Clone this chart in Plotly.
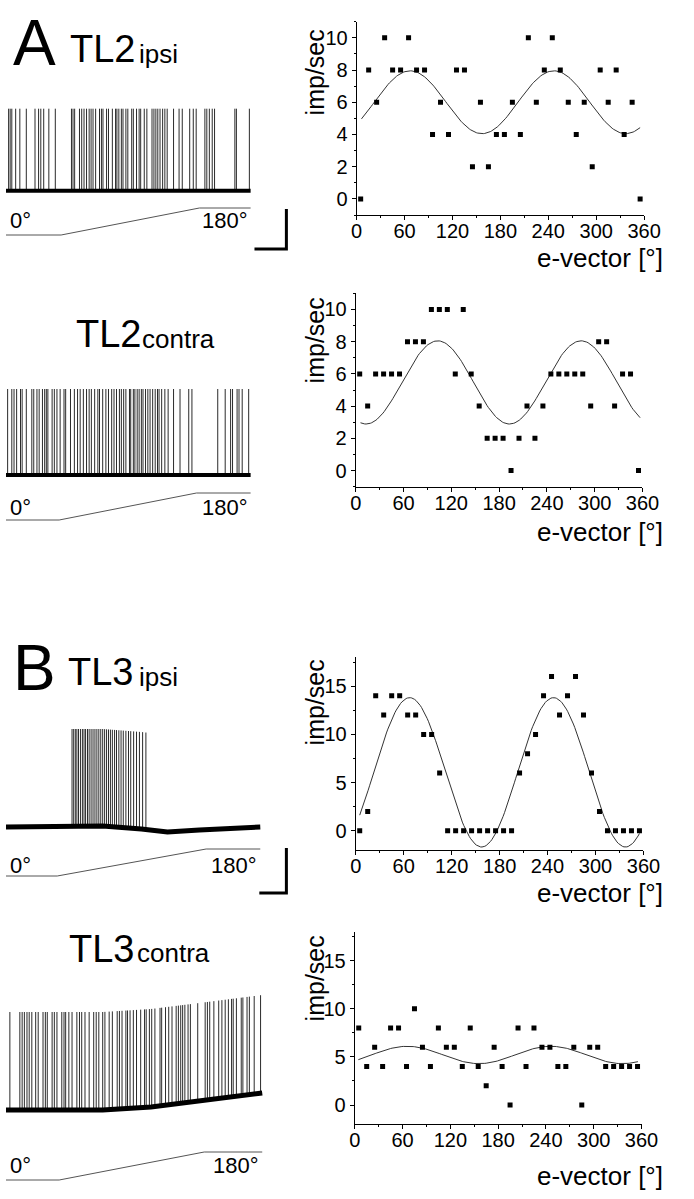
import numpy as np
import plotly.graph_objects as go

W, H = 694, 1199
FONT = "Arial, Liberation Sans, Helvetica, sans-serif"

# ---------------- tuning curves (right column) ----------------
evec = list(range(5, 360, 10))  # e-vector orientation of each sample [deg]
rate_tl2_ipsi = [0, 8, 6, 10, 8, 8, 10, 8, 8, 4, 6, 4, 8, 8, 2, 6, 2, 4, 4, 6,
                 4, 10, 6, 8, 10, 8, 6, 4, 6, 2, 8, 6, 8, 4, 6, 0]
rate_tl2_contra = [6, 4, 6, 6, 6, 6, 8, 8, 8, 10, 10, 10, 6, 10, 6, 4, 2, 2, 2, 0,
                   2, 4, 2, 4, 6, 6, 6, 6, 6, 4, 8, 8, 4, 6, 6, 0]
rate_tl3_ipsi = [0, 2, 14, 12, 14, 14, 12, 12, 10, 10, 6, 0, 0, 0, 0, 0, 0, 0, 0, 0,
                 6, 8, 10, 14, 16, 12, 14, 16, 12, 6, 2, 0, 0, 0, 0, 0]
rate_tl3_contra = [8, 4, 6, 4, 8, 8, 4, 10, 6, 4, 8, 6, 6, 4, 8, 4, 2, 6, 4, 0,
                   8, 4, 8, 6, 6, 4, 4, 6, 0, 6, 6, 4, 4, 4, 4, 4]

# sinusoidal (cos^2) fit parameters
fit_mean = [6.0, 5.47, 6.06, 5.2]
fit_amp = [1.95, 2.58, 7.75, 0.9]
fit_peak = [67, 103, 67.5, 66]
fit_start = [6, 6, 5, 4.5]
fit_end = [355, 357, 355, 355.5]

x_ticks = [0, 60, 120, 180, 240, 300, 360]
y_range_small = [-1, 11]
y_range_large = [-2, 18]

# ---------------- spike recordings (left column) ----------------
spikes_tl2_ipsi = [2.7, 4.3, 6, 10, 14.3, 21, 30, 33.7, 36, 39, 44.3, 51, 67.7, 69.3, 71,
                   76, 78.3, 80.7, 83.3, 86, 88, 90, 92.7, 96.7, 98.7, 100.3, 104, 106,
                   110, 113.3, 114.7, 116.7, 119.3, 121, 124, 126, 130, 131.7, 135,
                   137.7, 139.3, 143, 145.7, 151, 153, 155, 157, 159.3, 162, 164.3,
                   166.7, 173.3, 179, 182.3, 190, 193.7, 196.7, 205.7, 207.7, 210.3,
                   213.3, 215.7, 236.7, 238.3, 251.7]
spikes_tl2_contra = [1.7, 6, 8.3, 11, 15, 16.7, 21, 26.7, 28.7, 32, 34.3, 37.7, 40, 41.7,
                     43.3, 47.7, 50, 52.7, 56, 60, 61.7, 66.7, 70.7, 74, 76.7, 80, 83.3,
                     86, 88.3, 91.7, 95, 96.7, 100, 103.3, 106, 109.3, 111.7, 114.3,
                     117.3, 119.3, 121.7, 124, 127.7, 129, 131.7, 133.3, 135.7, 137.7,
                     140, 141.7, 144.3, 146.7, 149, 151.7, 154.3, 156.7, 158.3, 161,
                     164.3, 167.7, 173.3, 180, 189, 192.3, 219, 226.7, 232.3, 234.3,
                     239, 241, 244.3, 251]
spikes_tl3_ipsi = [68.3, 70, 71.7, 73.3, 75, 77, 79, 80.7, 82.3, 84.3, 86, 88, 90, 92,
                   94, 96, 98, 100, 102, 104, 106, 108, 110, 112.3, 114.3, 116.7, 119,
                   121.3, 124, 126.7, 129, 132, 135, 138, 141.3, 144.7]
spikes_tl3_contra = [4, 14.3, 16.7, 19, 21.7, 24, 26.7, 30.7, 33.3, 38.3, 40.7, 42.7,
                     47.7, 50, 52.7, 57.7, 60, 61.7, 65, 68.3, 73.3, 76, 78.3, 81.7, 86,
                     90.7, 93.3, 96, 100, 102.3, 106.7, 110, 115, 117.3, 120, 124, 125.7,
                     128.3, 131.7, 135, 139.3, 143.3, 145, 148.3, 150.7, 154, 159.3,
                     161, 165, 168.3, 171.7, 176, 178.3, 180.7, 182.7, 185, 188.3,
                     190.7, 198.3, 206, 208.3, 210.7, 215, 220, 223.3, 226.7, 230,
                     233.3, 235, 238.3, 243.3, 245, 249.3, 251.7, 256.7, 263.3]

# baseline (resting level) samples and spike amplitudes of each sweep
base_t = [[0, 253], [0, 253], [0, 60, 100, 140, 167, 200, 263], [0, 100, 150, 200, 265]]
base_v = [[190.7, 190.7], [475, 475], [827, 826, 826, 829, 832, 830, 827],
          [1110, 1110, 1107, 1101, 1093]]
spike_amp = [82, 86, 97, 98]
base_width = [4, 4, 5, 5]
spike_sets = [spikes_tl2_ipsi, spikes_tl2_contra, spikes_tl3_ipsi, spikes_tl3_contra]

# stimulus (polarizer rotation 0 -> 180 deg) ramp of each sweep
ramp_t = [[0, 57, 200, 253], [0, 55, 197, 253], [0, 53, 207, 263], [0, 55, 205, 265]]
ramp_v = [[235, 235, 208, 208], [520, 520, 493, 493], [876, 876, 849, 849],
          [1180, 1180, 1152, 1152]]
ramp_label_y = [220, 507, 865, 1165]

fig = go.Figure()

# pixel-space overlay axis for the recordings
for i in range(4):
    bt, bv = base_t[i], base_v[i]
    xs, ys = [], []
    for t in spike_sets[i]:
        b = float(np.interp(t, bt, bv))
        xs += [t, t, None]
        ys += [b, b - spike_amp[i], None]
    fig.add_trace(go.Scatter(x=xs, y=ys, mode="lines", xaxis="x5", yaxis="y5",
                             line=dict(color="#2a2a2a", width=1), showlegend=False,
                             hoverinfo="skip"))
    fig.add_trace(go.Scatter(x=bt, y=bv, mode="lines", xaxis="x5", yaxis="y5",
                             line=dict(color="black", width=base_width[i]),
                             showlegend=False, hoverinfo="skip"))
    fig.add_trace(go.Scatter(x=ramp_t[i], y=ramp_v[i], mode="lines", xaxis="x5",
                             yaxis="y5", line=dict(color="#555", width=1),
                             showlegend=False, hoverinfo="skip"))
    fig.add_annotation(x=2, y=ramp_label_y[i], xref="x5", yref="y5", text="0°",
                       showarrow=False, xanchor="left", yanchor="middle",
                       font=dict(family=FONT, size=22, color="black"))
    fig.add_annotation(x=ramp_t[i][-1] - 1, y=ramp_label_y[i], xref="x5", yref="y5",
                       text="180°", showarrow=False, xanchor="right", yanchor="middle",
                       font=dict(family=FONT, size=22, color="black"))

# scale bars
bar_x = [[257, 290, 290], [262, 290, 290]]
bar_y = [[249, 249, 209], [893, 893, 848]]
for bx, by in zip(bar_x, bar_y):
    fig.add_trace(go.Scatter(x=bx, y=by, mode="lines", xaxis="x5", yaxis="y5",
                             line=dict(color="black", width=3), showlegend=False,
                             hoverinfo="skip"))

# tuning plots
rates = [rate_tl2_ipsi, rate_tl2_contra, rate_tl3_ipsi, rate_tl3_contra]
xdom = [[362.7, 660], [361.7, 658.3], [361.7, 659.3], [360.7, 657.3]]
ydom = [[21.7, 215], [293.3, 486.7], [657.3, 850], [931.7, 1124.3]]
yr = [y_range_small, y_range_small, y_range_large, y_range_large]
ydt = [2, 2, 5, 5]
title_y = [72, 340, 702, 978]
xtitle_y = [258, 532, 893, 1176]

for i in range(4):
    n = i + 1
    xa = "x" if n == 1 else f"x{n}"
    ya = "y" if n == 1 else f"y{n}"
    xc = np.linspace(fit_start[i], fit_end[i], 200)
    yc = fit_mean[i] + fit_amp[i] * np.cos(np.radians(2 * (xc - fit_peak[i])))
    fig.add_trace(go.Scatter(x=xc, y=yc, mode="lines", xaxis=xa, yaxis=ya,
                             line=dict(color="#333", width=1), showlegend=False))
    fig.add_trace(go.Scatter(x=evec, y=rates[i], mode="markers", xaxis=xa, yaxis=ya,
                             marker=dict(symbol="square", size=5, color="black"),
                             showlegend=False))
    axx = dict(domain=[xdom[i][0] / W, xdom[i][1] / W], range=[0, 360],
               tickvals=x_ticks, showline=True, linecolor="black", linewidth=1,
               ticks="outside", ticklen=4, tickcolor="black", showgrid=False,
               zeroline=False, anchor=ya, fixedrange=True, ticklabelstandoff=-6,
               minor=dict(dtick=30, ticks="outside", ticklen=2, tickcolor="black"),
               tickfont=dict(family=FONT, size=20, color="black"))
    axy = dict(domain=[1 - ydom[i][1] / H, 1 - ydom[i][0] / H], range=yr[i],
               dtick=ydt[i], tick0=0, showline=True, linecolor="black", linewidth=1,
               ticks="outside", ticklen=4, tickcolor="black", showgrid=False,
               zeroline=False, anchor=xa, fixedrange=True,
               minor=dict(dtick=ydt[i] / 2, ticks="outside", ticklen=2,
                          tickcolor="black"),
               tickfont=dict(family=FONT, size=20, color="black"))
    fig.layout["xaxis" if n == 1 else f"xaxis{n}"] = axx
    fig.layout["yaxis" if n == 1 else f"yaxis{n}"] = axy
    fig.add_annotation(x=320, y=title_y[i], xref="x5", yref="y5", text="imp/sec",
                       textangle=-90, showarrow=False, xanchor="center",
                       yanchor="middle", font=dict(family=FONT, size=25, color="black"))
    fig.add_annotation(x=682, y=xtitle_y[i], xref="x5", yref="y5", text="e-vector [°]",
                       showarrow=False, xanchor="right", yanchor="middle",
                       font=dict(family=FONT, size=26, color="black"))

# panel headings
headings = [
    ("A", 5, 43, 64), ("TL2", 64, 49, 38), ("ipsi", 136, 54, 26),
    ("TL2", 70, 334, 38), ("contra", 139, 339, 26),
    ("B", 5, 668, 64), ("TL3", 62, 672, 38), ("ipsi", 136, 677, 26),
    ("TL3", 63, 949, 38), ("contra", 133, 953, 26),
]
for txt, hx, hy, fs in headings:
    fig.add_annotation(x=hx, y=hy, xref="x5", yref="y5", text=txt, showarrow=False,
                       xanchor="left", yanchor="middle",
                       font=dict(family=FONT, size=fs, color="black"))

fig.update_layout(
    width=W, height=H, margin=dict(l=0, r=0, t=0, b=0),
    paper_bgcolor="white", plot_bgcolor="rgba(0,0,0,0)",
    xaxis5=dict(domain=[0, 1], range=[0, W], visible=False, fixedrange=True,
                anchor="y5"),
    yaxis5=dict(domain=[0, 1], range=[H, 0], visible=False, fixedrange=True,
                anchor="x5"),
    showlegend=False,
)

fig.write_html("out.html", config={"displayModeBar": False},
               post_script="document.body.style.margin='0';"
                           "document.body.style.overflow='hidden';")
